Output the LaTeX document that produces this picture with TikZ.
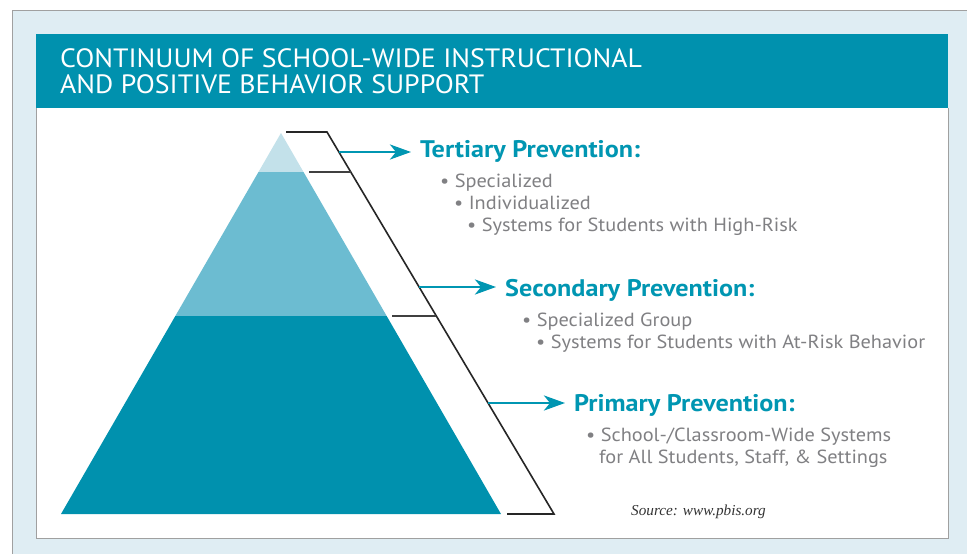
\documentclass[tikz,border=0pt]{standalone}
\usepackage{fontspec}
\setmainfont{PT Sans}
\newfontfamily\ttlfont[FakeStretch=1.05]{PT Sans}
\newfontfamily\hdfont[FakeStretch=1.09]{PT Sans}
\newfontfamily\itfont[FakeStretch=1.07]{PT Sans}
\newfontfamily\srcfont{Liberation Serif}
\usepackage{xcolor}
\usetikzlibrary{arrows.meta}

\definecolor{bgblue}{HTML}{DFEDF3}
\definecolor{barteal}{HTML}{0091AE}
\definecolor{headteal}{HTML}{0096B2}
\definecolor{tiermid}{HTML}{6CBCD1}
\definecolor{tiertop}{HTML}{C3E1EA}
\definecolor{txtgray}{HTML}{808083}
\definecolor{framegray}{HTML}{A0A0A0}

\begin{document}
\begin{tikzpicture}[x=1pt,y=-1pt,
  every node/.style={inner sep=0pt,anchor=base west},
  ttl/.style={font=\ttlfont\fontsize{26.5}{26.5}\selectfont,text=white},
  hd/.style={font=\hdfont\fontsize{24}{24}\selectfont\bfseries,text=headteal},
  it/.style={font=\itfont\fontsize{19}{19}\selectfont,text=txtgray},
  arr/.style={draw=headteal,line width=2.8pt,-{Stealth[length=21pt,width=15pt,inset=6pt]}},
  brk/.style={draw=black!85,line width=1.6pt},
  tick/.style={draw=black!75,line width=1.2pt}]
 \useasboundingbox (0,0) rectangle (967,554);
 % frame and panel
 \fill[bgblue] (12,10) rectangle (967,554);
 \draw[framegray,line width=1pt] (12,554) -- (12,10) -- (967,10);
 \fill[white] (36,108) rectangle (948,538);
 \draw[framegray,line width=1pt] (36,108) -- (36,538) -- (948,538) -- (948,108);
 \fill[barteal] (36,34) rectangle (948,108);
 \node[ttl] (title1) at (60,67) {CONTINUUM OF SCHOOL-WIDE INSTRUCTIONAL};
 \node[ttl] (title2) at (60,93) {AND POSITIVE BEHAVIOR SUPPORT};
 % pyramid, three tiers
 \begin{scope}
  \clip (281,133) -- (501,514) -- (61,514) -- cycle;
  \fill[tiertop] (50,120) rectangle (520,172);
  \fill[tiermid] (50,172) rectangle (520,316);
  \fill[barteal] (50,316) rectangle (520,520);
 \end{scope}
 % bracket
 \draw[brk] (286,132) -- (327,132) -- (554,514) -- (507,514);
 \draw[tick] (309,172) -- (350.8,172);
 \draw[tick] (392,316) -- (436.3,316);
 \coordinate (b1) at (338.9,152);
 \coordinate (b2) at (419.1,287);
 \coordinate (b3) at (488.3,403);
 % tertiary
 \node[hd] (tert) at (420,157) {Tertiary Prevention:};
 \node[it] (t1) at (440,187) {\textbullet\ Specialized};
 \node[it] (t2) at (454,209) {\textbullet\ Individualized};
 \node[it] (t3) at (467,231) {\textbullet\ Systems for Students with High-Risk};
 % secondary
 \node[hd] (sec) at (505,296) {Secondary Prevention:};
 \node[it] (s1) at (522,326) {\textbullet\ Specialized Group};
 \node[it] (s2) at (536,348) {\textbullet\ Systems for Students with At-Risk Behavior};
 % primary
 \node[hd] (prim) at (574,411) {Primary Prevention:};
 \node[it] (p1) at (586,441) {\textbullet\ School-/Classroom-Wide Systems};
 \node[it] (p2) at (599,463) {for All Students, Staff, \& Settings};
 \node[font=\srcfont\itshape\fontsize{15.2}{15.2}\selectfont,text=black!80] (src) at (631,515) {Source: www.pbis.org};
 \foreach \a/\b in {b1/tert,b2/sec,b3/prim}
   \draw[arr] (\a) -- ([xshift=-9pt]\a -| \b.west);
\end{tikzpicture}
\end{document}
